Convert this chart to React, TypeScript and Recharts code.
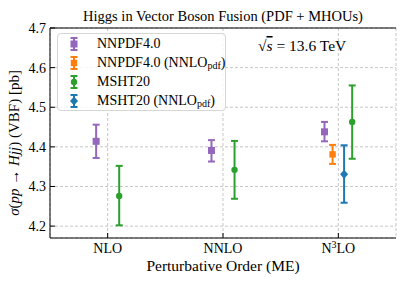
import React from 'react';
import { ComposedChart, Scatter, ErrorBar, XAxis, YAxis, CartesianGrid, Legend, ReferenceLine } from 'recharts';

const categories = ['NLO', 'NNLO', 'N3LO'];
const yTicks = [4.2, 4.3, 4.4, 4.5, 4.6, 4.7];

const nnpdfVal = [4.414, 4.391, 4.438];
const nnpdfLo = [4.372, 4.363, 4.414];
const nnpdfHi = [4.456, 4.417, 4.463];

const nnpdfPdfVal = [null, null, 4.381];
const nnpdfPdfLo = [null, null, 4.357];
const nnpdfPdfHi = [null, null, 4.405];

const mshtVal = [4.276, 4.342, 4.463];
const mshtLo = [4.202, 4.269, 4.370];
const mshtHi = [4.352, 4.415, 4.555];

const mshtPdfVal = [null, null, 4.331];
const mshtPdfLo = [null, null, 4.259];
const mshtPdfHi = [null, null, 4.404];

// horizontal dodge per category (in category units)
const dodgeNnpdf = [-0.1, -0.1, -0.12];
const dodgeNnpdfPdf = [0, 0, -0.05];
const dodgeMshtPdf = [0, 0, 0.05];
const dodgeMsht = [0.1, 0.1, 0.12];

const FONT = '"Liberation Serif", "Times New Roman", serif';

function build(vals: (number | null)[], lo: (number | null)[], hi: (number | null)[], dodge: number[]) {
  const out: { x: number; y: number; err: [number, number] }[] = [];
  vals.forEach((v, i) => {
    if (v == null) return;
    out.push({ x: i + dodge[i], y: v, err: [v - (lo[i] as number), (hi[i] as number) - v] });
  });
  return out;
}

const series = [
  { key: 'nnpdf', name: 'NNPDF4.0', sub: '', color: '#9467bd', shape: 'square', data: build(nnpdfVal, nnpdfLo, nnpdfHi, dodgeNnpdf) },
  { key: 'nnpdfpdf', name: 'NNPDF4.0 (NNLO', sub: 'pdf', color: '#ff7f0e', shape: 'square2', data: build(nnpdfPdfVal, nnpdfPdfLo, nnpdfPdfHi, dodgeNnpdfPdf) },
  { key: 'msht', name: 'MSHT20', sub: '', color: '#2ca02c', shape: 'circle', data: build(mshtVal, mshtLo, mshtHi, dodgeMsht) },
  { key: 'mshtpdf', name: 'MSHT20 (NNLO', sub: 'pdf', color: '#1f77b4', shape: 'diamond', data: build(mshtPdfVal, mshtPdfLo, mshtPdfHi, dodgeMshtPdf) },
];

function Marker({ cx, cy, shape, color }: any) {
  if (cx == null || cy == null) return null;
  if (shape === 'square') return <rect x={cx - 3.5} y={cy - 3.5} width={7} height={7} fill={color} />;
  if (shape === 'square2') return <rect x={cx - 3.2} y={cy - 3.2} width={6.4} height={6.4} fill={color} />;
  if (shape === 'circle') return <circle cx={cx} cy={cy} r={3.2} fill={color} />;
  return <polygon points={`${cx},${cy - 4.5} ${cx + 4},${cy} ${cx},${cy + 4.5} ${cx - 4},${cy}`} fill={color} />;
}

function LegendIcon({ color, shape }: any) {
  return (
    <svg width={12} height={16} style={{ position: 'absolute', left: 10, top: -8 }}>
      <line x1={6} x2={6} y1={2} y2={14} stroke={color} strokeWidth={2} />
      <line x1={2.5} x2={9.5} y1={2} y2={2} stroke={color} strokeWidth={2} />
      <line x1={2.5} x2={9.5} y1={14} y2={14} stroke={color} strokeWidth={2} />
      <Marker cx={6} cy={8} shape={shape} color={color} />
    </svg>
  );
}

function LegendBox() {
  return (
    <div style={{ position: 'relative', width: 169, height: 78, boxSizing: 'border-box', border: '1px solid #d6d6d6', borderRadius: 4, background: 'rgba(255,255,255,0.85)', fontFamily: FONT, fontSize: 14, color: '#000' }}>
      {series.map((s, i) => (
        <div key={s.key} style={{ position: 'absolute', left: 0, top: 10 + i * 19, height: 0 }}>
          <LegendIcon color={s.color} shape={s.shape} />
          <div style={{ position: 'absolute', left: 39, top: -9, whiteSpace: 'nowrap', lineHeight: '17px' }}>
            {s.name}
            {s.sub ? (<><sub style={{ fontSize: 10, verticalAlign: -2 }}>{s.sub}</sub>)</>) : null}
          </div>
        </div>
      ))}
    </div>
  );
}

function YTick({ x, y, payload }: any) {
  return (
    <g>
      <line x1={x} x2={x + 5} y1={y} y2={y} stroke="#000" strokeWidth={1} />
      <text x={x - 4} y={y} dy="0.35em" textAnchor="end" fontFamily={FONT} fontSize={14} fill="#000">{payload.value.toFixed(1)}</text>
    </g>
  );
}

function YTickRight({ x, y }: any) {
  return <line x1={x} x2={x - 5} y1={y} y2={y} stroke="#000" strokeWidth={1} />;
}

function XTick({ x, y, payload }: any) {
  const label = categories[payload.value];
  return (
    <g>
      <line x1={x} x2={x} y1={y} y2={y - 5} stroke="#000" strokeWidth={1} />
      <text x={x} y={y + 15} textAnchor="middle" fontFamily={FONT} fontSize={14} fill="#000">
        {label === 'N3LO' ? (<><tspan>N</tspan><tspan fontSize={10} dy={-5}>3</tspan><tspan dy={5}>LO</tspan></>) : label}
      </text>
    </g>
  );
}

export default function App() {
  return (
    <div style={{ position: 'absolute', left: 0, top: 0, width: 407, height: 285, background: '#fff' }}>
      <ComposedChart width={407} height={285} margin={{ top: 28, right: 11, left: 0, bottom: 0 }}>
        <CartesianGrid stroke="#b8b8b8" strokeDasharray="3 2" strokeWidth={0.8} />
        <XAxis type="number" dataKey="x" domain={[-0.5, 2.5]} ticks={[0, 1, 2]} allowDataOverflow height={47}
          tickSize={0} tickMargin={0} tickLine={false} tick={<XTick />} axisLine={{ stroke: '#000', strokeWidth: 1 }} interval={0} />
        <YAxis type="number" dataKey="y" domain={[4.17, 4.7]} ticks={yTicks} allowDataOverflow width={50}
          tickSize={0} tickMargin={0} tickLine={false} tick={<YTick />} axisLine={{ stroke: '#000', strokeWidth: 1 }} interval={0} />
        <YAxis yAxisId="r" orientation="right" type="number" domain={[4.17, 4.7]} ticks={yTicks} allowDataOverflow width={0}
          tickSize={0} tickMargin={0} tickLine={false} tick={<YTickRight />} axisLine={{ stroke: '#000', strokeWidth: 1 }} interval={0} />
        <ReferenceLine y={4.7} stroke="#000" strokeWidth={1} />
        {series.map((s) => (
          <Scatter key={s.key} name={s.name} data={s.data} isAnimationActive={false}
            shape={(p: any) => <Marker cx={p.cx} cy={p.cy} shape={s.shape} color={s.color} />}>
            <ErrorBar dataKey="err" direction="y" width={3.5} strokeWidth={2} stroke={s.color} />
          </Scatter>
        ))}
        <Legend layout="vertical" align="center" verticalAlign="middle" content={() => <LegendBox />}
          wrapperStyle={{ left: 57, top: 33, width: 169, height: 78 }} />
      </ComposedChart>
      <svg width={407} height={285} style={{ position: 'absolute', left: 0, top: 0, pointerEvents: 'none' }}>
        <text x={223} y={21} textAnchor="middle" fontFamily={FONT} fontSize={14.5} fill="#000">Higgs in Vector Boson Fusion (PDF + MHOUs)</text>
        <text x={258} y={51} fontFamily={FONT} fontSize={15.5} fill="#000">
          <tspan>√</tspan><tspan fontStyle="italic" textDecoration="overline">s</tspan><tspan> = 13.6 TeV</tspan>
        </text>
        <text x={223} y={271} textAnchor="middle" fontFamily={FONT} fontSize={15.5} fill="#000">Perturbative Order (ME)</text>
        <text transform="translate(19,143) rotate(-90)" textAnchor="middle" fontFamily={FONT} fontSize={15} fill="#000">
          <tspan fontStyle="italic">σ</tspan><tspan>(</tspan><tspan fontStyle="italic">pp</tspan><tspan> → </tspan><tspan fontStyle="italic">Hjj</tspan><tspan>) (VBF) [pb]</tspan>
        </text>
      </svg>
    </div>
  );
}
